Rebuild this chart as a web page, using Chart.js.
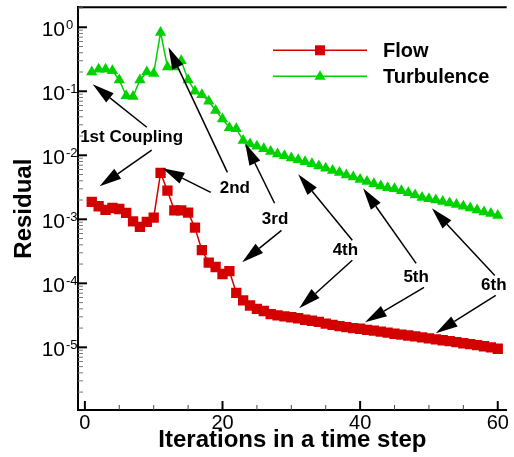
<!DOCTYPE html>
<html>
<head>
<meta charset="utf-8">
<script src="https://cdn.jsdelivr.net/npm/chart.js@4.4.1/dist/chart.umd.min.js"></script>
<style>
  html, body { margin: 0; padding: 0; background: #fff; }
  canvas { display: block; }
</style>
</head>
<body>
<canvas id="residualChart" width="514" height="457"></canvas>
<script>
const FONT = "'Liberation Sans', Arial, Helvetica, sans-serif";

const iterations = [
  1, 2, 3, 4, 5, 6, 7, 8, 9, 10, 11, 12, 13, 14, 15, 16, 17, 18, 19, 20,
  21, 22, 23, 24, 25, 26, 27, 28, 29, 30, 31, 32, 33, 34, 35, 36, 37, 38, 39, 40,
  41, 42, 43, 44, 45, 46, 47, 48, 49, 50, 51, 52, 53, 54, 55, 56, 57, 58, 59, 60
];

const flowResidual = [
  1.87e-3, 1.6e-3, 1.4e-3, 1.5e-3, 1.45e-3, 1.26e-3, 9.3e-4, 7.6e-4, 9.1e-4, 1.06e-3,
  5.3e-3, 2.8e-3, 1.38e-3, 1.38e-3, 1.27e-3, 7.4e-4, 3.3e-4, 2.1e-4, 1.8e-4, 1.4e-4,
  1.55e-4, 7.1e-5, 5.4e-5, 4.5e-5, 4.0e-5, 3.7e-5, 3.3e-5, 3.15e-5, 3.05e-5, 2.95e-5,
  2.85e-5, 2.7e-5, 2.6e-5, 2.5e-5, 2.35e-5, 2.25e-5, 2.15e-5, 2.07e-5, 2.0e-5, 1.95e-5,
  1.88e-5, 1.82e-5, 1.76e-5, 1.7e-5, 1.63e-5, 1.58e-5, 1.53e-5, 1.48e-5, 1.43e-5, 1.38e-5,
  1.33e-5, 1.29e-5, 1.25e-5, 1.21e-5, 1.16e-5, 1.12e-5, 1.08e-5, 1.04e-5, 1.0e-5, 9.5e-6
];

const turbulenceResidual = [
  0.20, 0.22, 0.22, 0.21, 0.15, 0.085, 0.083, 0.15, 0.20, 0.19,
  0.83, 0.24, 0.24, 0.30, 0.15, 0.10, 0.088, 0.07, 0.05, 0.037,
  0.027, 0.026, 0.017, 0.015, 0.0138, 0.0126, 0.0115, 0.0105, 0.0098, 0.0091,
  0.0085, 0.0079, 0.0074, 0.0068, 0.0063, 0.0058, 0.0054, 0.0049, 0.0046, 0.0042,
  0.0039, 0.0036, 0.0033, 0.0031, 0.0030, 0.0028, 0.0026, 0.0024, 0.0022, 0.0021,
  0.0020, 0.0019, 0.0018, 0.0017, 0.0016, 0.0015, 0.0014, 0.0013, 0.00123, 0.00115
];

const xTicks = [0, 5, 10, 15, 20, 25, 30, 35, 40, 45, 50, 55, 60];
const xTickLabels = ["0", "", "", "", "20", "", "", "", "40", "", "", "", "60"];

const yDecades = [1, 1e-1, 1e-2, 1e-3, 1e-4, 1e-5, 1e-6];
const yExponents = ["0", "-1", "-2", "-3", "-4", "-5", ""];

// annotation texts with their arrows (tail -> tip), in iteration / residual units
const noteTexts = ["1st Coupling", "2nd", "3rd", "4th", "5th", "6th"];
const notePos = [[6.79, 0.0191], [21.79, 0.00305], [27.64, 0.001], [37.86, 3.28e-4], [48.14, 1.24e-4], [59.43, 9.3e-5]];
const noteArrows = [
  [[[9.0, 0.0274], [1.14, 0.129]], [[9.71, 0.012], [2.14, 0.00328]]],
  [[[20.71, 0.00542], [12.14, 0.487]], [[18.29, 0.00264], [11.29, 0.00627]]],
  [[[27.57, 0.00178], [23.29, 0.0154]], [[28.57, 6.73e-4], [22.86, 2.13e-4]]],
  [[[38.86, 4.7e-4], [31.0, 5.05e-3]], [[38.86, 2.29e-4], [31.14, 4.07e-5]]],
  [[[48.14, 2.05e-4], [40.43, 3.05e-3]], [[49.29, 8.66e-5], [40.71, 2.46e-5]]],
  [[[59.57, 1.33e-4], [50.43, 1.49e-3]], [[59.71, 6.49e-5], [51.0, 1.66e-5]]]
];

const FLOW_COLOR = "#d40000";
const TURB_COLOR = "#00d200";


function toPoints(values) {
  return values.map((v, i) => ({ x: iterations[i], y: v }));
}


function drawArrow(ctx, x1, y1, x2, y2) {
  const headLen = 22;
  const headHalf = 6;
  const ang = Math.atan2(y2 - y1, x2 - x1);
  const bx = x2 - headLen * Math.cos(ang);
  const by = y2 - headLen * Math.sin(ang);

  ctx.lineWidth = 1.5;
  ctx.beginPath();
  ctx.moveTo(x1, y1);
  ctx.lineTo(bx, by);
  ctx.stroke();

  ctx.beginPath();
  ctx.moveTo(x2, y2);
  ctx.lineTo(bx + headHalf * Math.sin(ang), by - headHalf * Math.cos(ang));
  ctx.lineTo(bx - headHalf * Math.sin(ang), by + headHalf * Math.cos(ang));
  ctx.closePath();
  ctx.fill();
}


const decorPlugin = {
  id: "decor",
  afterDraw(chart) {
    const { ctx, chartArea } = chart;
    const sx = chart.scales.x;
    const sy = chart.scales.y;

    ctx.save();
    ctx.strokeStyle = "#000";
    ctx.fillStyle = "#000";

    // top frame line
    ctx.lineWidth = 2;
    ctx.beginPath();
    ctx.moveTo(chartArea.left, chartArea.top);
    ctx.lineTo(chartArea.right, chartArea.top);
    ctx.stroke();

    // x ticks pointing inward, labels below
    ctx.font = "20px " + FONT;
    ctx.textAlign = "center";
    ctx.textBaseline = "alphabetic";
    xTicks.forEach((v, i) => {
      const px = sx.getPixelForValue(v);
      const major = xTickLabels[i] !== "";
      ctx.lineWidth = major ? 2 : 1;
      ctx.strokeStyle = major ? "#000" : "#444";
      ctx.beginPath();
      ctx.moveTo(px, chartArea.bottom);
      ctx.lineTo(px, chartArea.bottom - (major ? 9 : 5));
      ctx.stroke();
      if (major) ctx.fillText(xTickLabels[i], px, chartArea.bottom + 19);
    });

    // y ticks (decades + minors) pointing inward
    yDecades.forEach((d) => {
      for (let m = 1; m <= 9; m++) {
        const v = d * m;
        if (v < sy.min || v > sy.max) continue;
        const py = sy.getPixelForValue(v);
        ctx.lineWidth = m === 1 ? 2 : 1;
        ctx.strokeStyle = m === 1 ? "#000" : "#777";
        ctx.beginPath();
        ctx.moveTo(chartArea.left, py);
        ctx.lineTo(chartArea.left + (m === 1 ? 9 : 5), py);
        ctx.stroke();
      }
    });

    // y labels as 10 with raised exponent
    yDecades.forEach((d, i) => {
      if (yExponents[i] === "") return;
      const py = sy.getPixelForValue(d);
      ctx.font = "21px " + FONT;
      ctx.textAlign = "right";
      ctx.textBaseline = "alphabetic";
      ctx.fillText("10", 65, py + 8.5);
      ctx.font = "13px " + FONT;
      ctx.textAlign = "left";
      ctx.fillText(yExponents[i], 66, py + 1.5);
    });

    // axis titles
    ctx.font = "bold 24px " + FONT;
    ctx.textAlign = "center";
    ctx.textBaseline = "alphabetic";
    ctx.fillText("Iterations in a time step", (chartArea.left + chartArea.right) / 2, 447);
    ctx.save();
    ctx.translate(31, (chartArea.top + chartArea.bottom) / 2);
    ctx.rotate(-Math.PI / 2);
    ctx.fillText("Residual", 0, 0);
    ctx.restore();

    // annotations
    ctx.strokeStyle = "#000";
    ctx.fillStyle = "#000";
    noteArrows.forEach((pair) => {
      pair.forEach(([tail, tip]) => {
        drawArrow(
          ctx,
          sx.getPixelForValue(tail[0]), sy.getPixelForValue(tail[1]),
          sx.getPixelForValue(tip[0]), sy.getPixelForValue(tip[1])
        );
      });
    });
    ctx.font = "bold 17px " + FONT;
    ctx.textAlign = "center";
    ctx.textBaseline = "middle";
    noteTexts.forEach((t, i) => {
      ctx.fillText(t, sx.getPixelForValue(notePos[i][0]), sy.getPixelForValue(notePos[i][1]));
    });

    // legend
    const lx0 = chartArea.left + 195;
    const lx1 = chartArea.left + 289;
    const lmid = (lx0 + lx1) / 2;
    const rows = [
      { text: "Flow", color: FLOW_COLOR, y: chartArea.top + 43, shape: "rect" },
      { text: "Turbulence", color: TURB_COLOR, y: chartArea.top + 69, shape: "tri" }
    ];
    rows.forEach((r) => {
      ctx.strokeStyle = r.color;
      ctx.fillStyle = r.color;
      ctx.lineWidth = 1.5;
      ctx.beginPath();
      ctx.moveTo(lx0, r.y);
      ctx.lineTo(lx1, r.y);
      ctx.stroke();
      ctx.beginPath();
      if (r.shape === "rect") {
        ctx.rect(lmid - 5, r.y - 5, 10, 10);
      } else {
        ctx.moveTo(lmid, r.y - 6);
        ctx.lineTo(lmid + 5.5, r.y + 3.5);
        ctx.lineTo(lmid - 5.5, r.y + 3.5);
        ctx.closePath();
      }
      ctx.fill();
      ctx.fillStyle = "#000";
      ctx.font = "bold 20px " + FONT;
      ctx.textAlign = "left";
      ctx.textBaseline = "middle";
      ctx.fillText(r.text, lx1 + 16, r.y + 1);
    });

    ctx.restore();
  }
};


new Chart(document.getElementById("residualChart"), {
  type: "line",
  data: {
    datasets: [
      {
        label: "Flow",
        data: toPoints(flowResidual),
        borderColor: FLOW_COLOR,
        backgroundColor: FLOW_COLOR,
        borderWidth: 1.5,
        pointStyle: "rect",
        pointRadius: 7.3,
        pointBorderWidth: 0,
        tension: 0
      },
      {
        label: "Turbulence",
        data: toPoints(turbulenceResidual),
        borderColor: TURB_COLOR,
        backgroundColor: TURB_COLOR,
        borderWidth: 1.5,
        pointStyle: "triangle",
        pointRadius: 6.5,
        pointBorderWidth: 0,
        tension: 0
      }
    ]
  },
  options: {
    responsive: false,
    animation: false,
    layout: { padding: { top: 7, left: 0, right: 0, bottom: 0 } },
    plugins: {
      legend: { display: false },
      tooltip: { enabled: false }
    },
    scales: {
      x: {
        type: "linear",
        min: -1,
        max: 61.3,
        grid: { display: false },
        border: { display: true, color: "#000", width: 2 },
        ticks: { display: false },
        afterFit: (scale) => {
          scale.height = 47;
          scale.paddingLeft = 0;
          scale.paddingRight = 0;
        }
      },
      y: {
        type: "logarithmic",
        min: 1.05e-6,
        max: 2.05,
        grid: { display: false },
        border: { display: true, color: "#000", width: 2 },
        ticks: { display: false },
        afterFit: (scale) => {
          scale.width = 78;
        }
      }
    }
  },
  plugins: [decorPlugin]
});
</script>
</body>
</html>
